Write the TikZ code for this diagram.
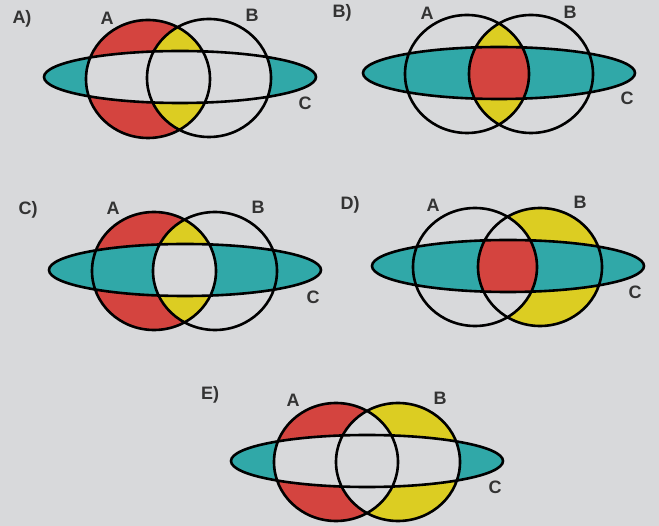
\documentclass[tikz,border=0pt]{standalone}
\usepackage{fontspec}
\setmainfont{Liberation Sans}
\definecolor{bgc}{HTML}{D8D9DB}
\definecolor{redc}{HTML}{D4443F}
\definecolor{yelc}{HTML}{DCCD22}
\definecolor{tealc}{HTML}{30A8A8}
\newcommand\cA[1]{(#1A) ellipse [x radius=62pt,y radius=59pt]}
\newcommand\cB[1]{(#1B) ellipse [x radius=62pt,y radius=59pt]}
\newcommand\cC[1]{(#1C) ellipse [x radius=136pt,y radius=26pt]}
\tikzset{
  ring/.style={draw=black,line width=2.6pt},
  lab/.style={font=\fontsize{18}{20}\selectfont\bfseries,inner sep=0pt,text=black!80}
}
\begin{document}
\begin{tikzpicture}[x=1pt,y=-1pt]
\fill[bgc] (0,0) rectangle (659,526);
\useasboundingbox (0,0) rectangle (659,526);
% centres
\coordinate (aA) at (148,79);  \coordinate (aB) at (209,78);  \coordinate (aC) at (180,77);
\coordinate (bA) at (467,74);  \coordinate (bB) at (531,74);  \coordinate (bC) at (499,73);
\coordinate (cA) at (154,271); \coordinate (cB) at (215,271); \coordinate (cC) at (185,270);
\coordinate (dA) at (475,267); \coordinate (dB) at (540,267); \coordinate (dC) at (508,266);
\coordinate (eA) at (336,462); \coordinate (eB) at (398,462); \coordinate (eC) at (367,461);

% ---- A)
\fill[redc] \cA{a};
\begin{scope}\clip \cA{a}; \fill[yelc] \cB{a};\end{scope}
\fill[tealc] \cC{a};
\begin{scope}\clip \cC{a}; \fill[bgc] \cA{a}; \fill[bgc] \cB{a};\end{scope}
\path[ring] \cA{a} \cB{a} \cC{a};
\node[lab] (ta) at (22,19) {A)};
\node[lab] (taA) at (107,18) {A};
\node[lab] (taB) at (252,15) {B};
\node[lab] (taC) at (305,103) {C};

% ---- B)
\fill[tealc] \cC{b};
\begin{scope}\clip \cA{b}; \clip \cB{b}; \fill[yelc] \cB{b}; \fill[redc] \cC{b};\end{scope}
\path[ring] \cA{b} \cB{b} \cC{b};
\node[lab] (tb) at (342,13) {B)};
\node[lab] (tbA) at (427,13) {A};
\node[lab] (tbB) at (570,12) {B};
\node[lab] (tbC) at (627,98) {C};

% ---- C)
\fill[redc] \cA{c};
\begin{scope}\clip \cA{c}; \fill[yelc] \cB{c};\end{scope}
\fill[tealc] \cC{c};
\begin{scope}\clip \cC{c}; \clip \cA{c}; \fill[bgc] \cB{c};\end{scope}
\path[ring] \cA{c} \cB{c} \cC{c};
\node[lab] (tc) at (28,210) {C)};
\node[lab] (tcA) at (113,208) {A};
\node[lab] (tcB) at (258,207) {B};
\node[lab] (tcC) at (313,297) {C};

% ---- D)
\fill[yelc] \cB{d};
\begin{scope}\clip \cB{d}; \fill[bgc] \cA{d};\end{scope}
\fill[tealc] \cC{d};
\begin{scope}\clip \cA{d}; \clip \cB{d}; \fill[redc] \cC{d};\end{scope}
\path[ring] \cA{d} \cB{d} \cC{d};
\node[lab] (td) at (350,205) {D)};
\node[lab] (tdA) at (433,205) {A};
\node[lab] (tdB) at (580,202) {B};
\node[lab] (tdC) at (635,292) {C};

% ---- E)
\fill[redc] \cA{e};
\fill[yelc] \cB{e};
\begin{scope}\clip \cA{e}; \fill[bgc] \cB{e};\end{scope}
\fill[tealc] \cC{e};
\begin{scope}\clip \cC{e}; \fill[bgc] \cA{e}; \fill[bgc] \cB{e};\end{scope}
\path[ring] \cA{e} \cB{e} \cC{e};
\node[lab] (te) at (210,395) {E)};
\node[lab] (teA) at (293,400) {A};
\node[lab] (teB) at (440,398) {B};
\node[lab] (teC) at (495,487) {C};
\end{tikzpicture}
\end{document}
